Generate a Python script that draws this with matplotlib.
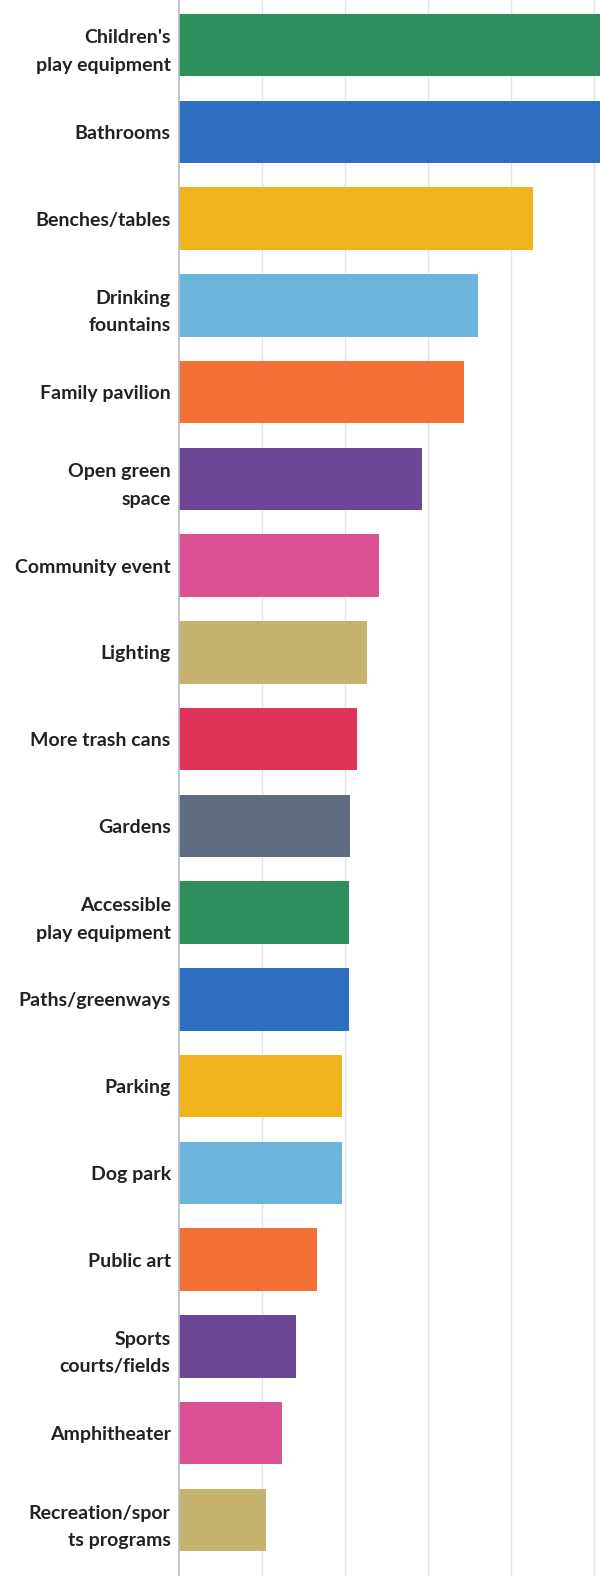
import matplotlib
matplotlib.use('Agg')
import matplotlib.pyplot as plt

categories = ["Children's\nplay equipment", 'Bathrooms', 'Benches/tables', 'Drinking\nfountains',
              'Family pavilion', 'Open green\nspace', 'Community event', 'Lighting',
              'More trash cans', 'Gardens', 'Accessible\nplay equipment', 'Paths/greenways',
              'Parking', 'Dog park', 'Public art', 'Sports\ncourts/fields', 'Amphitheater',
              'Recreation/spor\nts programs']
values = [50.7, 50.7, 42.6, 36.0, 34.3, 29.3, 24.1, 22.6, 21.4, 20.6, 20.5, 20.5,
          19.6, 19.6, 16.6, 14.1, 12.4, 10.5]
colors = ['#2e8f5c', '#2f6fc2', '#f0b51c', '#6bb5dc', '#f26f35', '#6b4796', '#db5192',
          '#c5b26d', '#e0335a', '#5f6b80']

bar_colors = [colors[i % len(colors)] for i in range(len(values))]

fig = plt.figure(figsize=(6, 15.76), dpi=100)
ax = fig.add_axes([179/600, 0, 1 - 179/600, 1])

y = list(range(len(values)))
ax.barh(y, values, height=0.72, color=bar_colors, zorder=2)

ax.set_xlim(0, 50.7)
ax.set_ylim(17 + 56/86.8, -45/86.8)
ax.set_xticks([10, 20, 30, 40, 50])
ax.set_xticklabels([])
ax.tick_params(axis='x', length=0)
ax.grid(axis='x', color='#e4e4ea', linewidth=1, zorder=0)
ax.set_yticks(y)
ax.set_yticklabels(categories, fontsize=14, fontweight='bold', family=['Lato', 'DejaVu Sans'],
                   color='#222222', linespacing=1.75, multialignment='right')
ax.tick_params(axis='y', length=0, pad=6)
for s in ['top', 'right', 'bottom']:
    ax.spines[s].set_visible(False)
ax.spines['left'].set_color('#b8bcc8')
ax.spines['left'].set_linewidth(1.2)

plt.savefig('out.png', dpi=100)
